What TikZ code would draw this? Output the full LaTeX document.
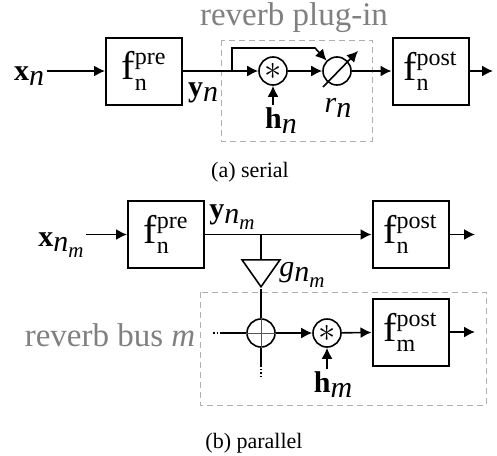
\documentclass[tikz,border=0pt]{standalone}
\usepackage{fontspec}
\setmainfont{Liberation Serif}
\usetikzlibrary{positioning,shapes.geometric,arrows.meta}
\DeclareMathSizes{20}{20}{12}{9}
\definecolor{regiongrey}{HTML}{B0B0B0}
\definecolor{titlegrey}{HTML}{808080}
\definecolor{plusgrey}{HTML}{555555}
\newcommand{\fblk}[2]{$\mathrm{f}^{\mathrm{#2}}_{\mathrm{#1}}$}
\newcommand{\lo}[1]{\raisebox{-0.17em}{#1}}
\newcommand{\nm}{\textit{n}\raisebox{-0.22em}{\fontsize{10.5}{10.5}\selectfont\textit{m}}}
\begin{document}
\begin{tikzpicture}[x=0.5pt,y=-0.5pt,line width=0.8pt,
				>={Latex[length=5.5pt,width=5.5pt]},
				block/.style={draw,line width=1pt,minimum width=38pt,minimum height=33.5pt,inner sep=0pt,font=\fontsize{20}{22}\selectfont},
				op/.style={draw,circle,minimum size=14pt,inner sep=0pt,font=\fontsize{17}{17}\selectfont},
				gain/.style={draw,isosceles triangle,isosceles triangle stretches,shape border rotate=270,minimum width=19pt,minimum height=13.5pt,inner sep=0pt},
				sig/.style={inner sep=1pt,font=\fontsize{15}{18}\selectfont},
				region/.style={draw=regiongrey,dash pattern=on 3pt off 2pt,line width=0.5pt},
				regiontitle/.style={text=titlegrey,font=\fontsize{16.5}{18}\selectfont},
				caption/.style={font=\fontsize{11}{13}\selectfont}]
\useasboundingbox (0,0) rectangle (497,455);
% (a) serial
\draw[region] (221,40) rectangle (372,141);
\node[regiontitle] (plugtitle) at (294,18) {reverb plug-in};
\node[sig] (xn) at (29,76) {\textbf{x}\lo{\textit{n}}};
\node[block] (fpre) at (144,71) {\fblk{n}{pre}};
\node[op] (conv) at (273,71) {$\ast$};
\node[op] (rgain) at (337,71) {};
\node[block] (fpost) at (430.5,71) {\fblk{n}{post}};
\coordinate (tap) at (232,71);
\coordinate (bend) at (315,48);
\coordinate (outa) at (493,71);
\node[sig] (yn) at (203,93) {\textbf{y}\lo{\textit{n}}};
\node[sig] (hn) at (281,121) {\textbf{h}\lo{\textit{n}}};
\node[sig] (rn) at (338,108) {\textit{r}\lo{\textit{n}}};
\node[caption] (capa) at (250,172) {(a) serial};
\draw[->] (xn.east |- fpre) -- (fpre);
\draw (fpre) -- (tap);
\draw[->] (tap) -- (conv);
\draw[->] (tap) |- (bend) -- (rgain.north west);
\draw[->] (hn.north -| conv) -- (conv);
\draw[->] (conv) -- (rgain);
\draw[->] ([shift={(-14,16)}]rgain.center) -- ([shift={(21,-20)}]rgain.center);
\draw[->] (rgain) -- (fpost);
\draw[->] (fpost) -- (outa);
% (b) parallel
\draw[region] (200,292) rectangle (486,405);
\node[regiontitle] (bustitle) at (110,335) {reverb bus \textit{m}};
\node[sig] (xnm) at (61,245) {\textbf{x}\lo{\nm}};
\node[block] (fpreb) at (166,234.5) {\fblk{n}{pre}};
\node[block] (fpostb) at (410.5,234.5) {\fblk{n}{post}};
\node[block] (fpostm) at (410.5,332) {\fblk{m}{post}};
\coordinate (tapb) at (261,234.5);
\node[gain,anchor=lower side] (gain) at (261,259) {};
\node[op] (sum) at (261,333) {};
\node[op] (convb) at (327,333) {$\ast$};
\coordinate (busin) at (213,333);
\coordinate (busjoin) at (221,333);
\coordinate (busdown) at (261,365);
\coordinate (busend) at (261,378);
\coordinate (outb) at (475,234.5);
\coordinate (outm) at (475,332);
\node[sig] (ynm) at (232,217) {\textbf{y}\lo{\nm}};
\node[sig] (gnm) at (302,275) {\textit{g}\lo{\nm}};
\node[sig] (hm) at (333,385) {\textbf{h}\lo{\textit{m}}};
\node[caption] (capb) at (254,443) {(b) parallel};
\draw[->] (xnm.east |- fpreb) -- (fpreb);
\draw[->] (fpreb) -- (fpostb);
\draw[->] (fpostb) -- (outb);
\draw (tapb) -- (gain.lower side);
\draw (gain.apex) -- (sum);
\draw[plusgrey,line width=0.5pt] (sum.north) -- (sum.south) (sum.west) -- (sum.east);
\draw[densely dotted] (busin) -- (busjoin);
\draw (busjoin) -- (sum);
\draw (sum) -- (busdown);
\draw[densely dotted] (busdown) -- (busend);
\draw[->] (sum) -- (convb);
\draw[->] (hm.north -| convb) -- (convb);
\draw[->] (convb) -- (fpostm);
\draw[->] (fpostm) -- (outm);
\end{tikzpicture}
\end{document}
